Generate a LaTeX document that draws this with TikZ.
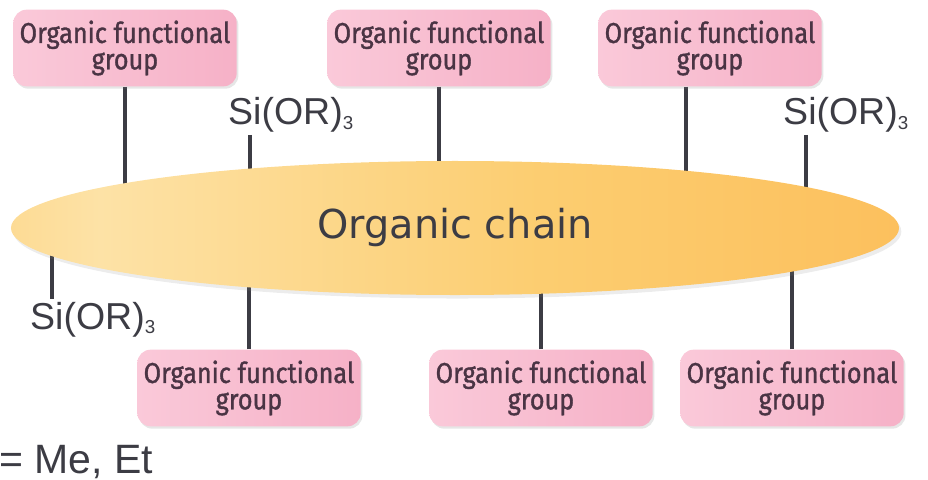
\documentclass[tikz,border=0pt]{standalone}
\usepackage{fontspec}
\setmainfont{Liberation Sans}
\newfontfamily\chainfont{DejaVu Sans}
\newfontfamily\groupfont[FakeStretch=0.88, FakeBold=1.2]{Fira Sans}
\usetikzlibrary{positioning, calc, shapes.geometric, shadows, backgrounds}
\definecolor{pinkL}{HTML}{FAC9D9}
\definecolor{pinkR}{HTML}{F6B1C7}
\definecolor{ink}{HTML}{3C3C44}
\definecolor{groupink}{HTML}{4A3444}
\definecolor{chainA}{HTML}{FCC45A}
\definecolor{chainB}{HTML}{FDE2A6}
\definecolor{chainC}{HTML}{FCCD70}
\definecolor{chainD}{HTML}{FBB046}
\pgfdeclarehorizontalshading{chainshade}{100bp}{%
  color(0bp)=(chainA);
  color(8bp)=(chainA);
  color(30bp)=(chainB);
  color(55bp)=(chainC);
  color(100bp)=(chainD)}
\newcommand{\lowsub}[1]{\raisebox{-0.25ex}{\fontsize{16}{16}\selectfont #1}}
\tikzset{
x=0.03cm, y=-0.03cm,
stick/.style={draw=ink, line width=3.4pt},
fgroup/.style={%
    rectangle,
    rounded corners=4mm,
    minimum width=6.7cm, minimum height=2.3cm,
    inner sep=0pt,
    left color=pinkL, right color=pinkR,
    text=groupink, align=center,
    font=\groupfont\fontsize{24.5}{22.5}\selectfont,
    drop shadow={shadow xshift=1.5pt, shadow yshift=-2pt, opacity=0.2}
},
chainbody/.style={%
    ellipse, inner sep=0pt,
    minimum width=26.64cm, minimum height=4.02cm,
    shading=chainshade,
    text=ink, font=\chainfont\fontsize{34}{34}\selectfont,
    drop shadow={shadow xshift=2pt, shadow yshift=-3pt, opacity=0.15}
},
silane/.style={text=ink, inner sep=0pt, font=\fontsize{32}{32}\selectfont},
}

\begin{document}
\begin{tikzpicture}
\useasboundingbox (0,0) rectangle (928,480);

\node[chainbody] (chain) at (455,228) {Organic chain};

% groups above and below the chain
\node[fgroup] (g1) at (125,48) {Organic functional\\group};
\node[fgroup] (g2) at (439,48) {Organic functional\\group};
\node[fgroup] (g3) at (710,48) {Organic functional\\group};
\node[fgroup] (g4) at (249,388) {Organic functional\\group};
\node[fgroup] (g5) at (541,388) {Organic functional\\group};
\node[fgroup] (g6) at (792,388) {Organic functional\\group};

% silyl ends
\node[silane, anchor=base west] (si1) at (228,125) {Si(OR)\lowsub{3}};
\node[silane, anchor=base west] (si2) at (783,125) {Si(OR)\lowsub{3}};
\node[silane, anchor=base west] (si3) at (30,329) {Si(OR)\lowsub{3}};
\node[silane, anchor=base west, font=\fontsize{35}{35}\selectfont] (rdef) at (-1,473) {= Me, Et};

\coordinate (s1) at ($(si1.south west)+(22,2)$);
\coordinate (s2) at ($(si2.south west)+(23,2)$);
\coordinate (s3) at ($(si3.north west)+(22,-3)$);
\coordinate (t3) at ($(g3.south)+(-24,0)$);

\begin{pgfonlayer}{background}
\draw[stick] (g1.south) -- (g1.south |- chain.center);
\draw[stick] (g2.south) -- (g2.south |- chain.center);
\draw[stick] (t3) -- (t3 |- chain.center);
\draw[stick] (g4.north) -- (g4.north |- chain.center);
\draw[stick] (g5.north) -- (g5.north |- chain.center);
\draw[stick] (g6.north) -- (g6.north |- chain.center);
\draw[stick] (s1) -- (s1 |- chain.center);
\draw[stick] (s2) -- (s2 |- chain.center);
\draw[stick] (s3) -- (s3 |- chain.center);
\end{pgfonlayer}

\end{tikzpicture}
\end{document}
